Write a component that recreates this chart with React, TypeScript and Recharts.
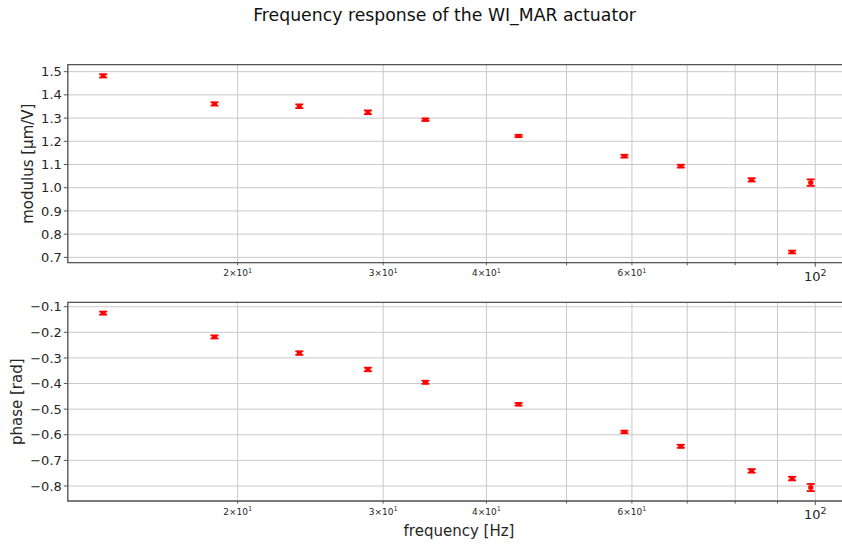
import { ScatterChart, Scatter, XAxis, YAxis, CartesianGrid, ErrorBar, ReferenceArea } from "recharts";

// measured points (Hz)
const freq = [13.75, 18.75, 23.75, 28.75, 33.75, 43.75, 58.75, 68.75, 83.75, 93.75, 98.75];
const modulus = [1.482, 1.361, 1.351, 1.325, 1.293, 1.223, 1.136, 1.093, 1.034, 0.723, 1.022];
const modulusErr = [0.007, 0.007, 0.008, 0.008, 0.005, 0.005, 0.006, 0.006, 0.007, 0.006, 0.014];
const phase = [-0.125, -0.218, -0.281, -0.345, -0.395, -0.481, -0.589, -0.645, -0.741, -0.771, -0.806];
const phaseErr = [0.006, 0.006, 0.007, 0.007, 0.006, 0.005, 0.005, 0.006, 0.007, 0.007, 0.014];

const xTicks = [20, 30, 40, 50, 60, 70, 80, 90, 100];
const xTickLabels = ["2×10^1", "3×10^1", "4×10^1", "", "6×10^1", "", "", "", "10^2"];
const modulusTicks = [0.7, 0.8, 0.9, 1.0, 1.1, 1.2, 1.3, 1.4, 1.5];
const phaseTicks = [-0.8, -0.7, -0.6, -0.5, -0.4, -0.3, -0.2, -0.1];

const X_DOMAIN: [number, number] = [12.46, 109];
const MOD_DOMAIN: [number, number] = [0.677, 1.53];
const PHASE_DOMAIN: [number, number] = [-0.8586, -0.0828];

const INK = "#262626";
const FRAME = "#555555";
const GRID = "#c9c9c9";

const modulusRows = freq.map((f, i) => ({ f, v: modulus[i], e: modulusErr[i] }));
const phaseRows = freq.map((f, i) => ({ f, v: phase[i], e: phaseErr[i] }));

function FreqTick(props: any) {
  const { x, y, payload } = props;
  const idx = xTicks.indexOf(payload.value);
  const label = xTickLabels[idx] || "";
  const major = payload.value === 100;
  const [mant, exp] = label.split("^");
  return (
    <g>
      <line x1={x} x2={x} y1={y} y2={y + (major ? 4 : 2.5)} stroke={FRAME} strokeWidth={1} />
      {label && (
        <text
          x={x}
          y={y + (major ? 18 : 13.5)}
          textAnchor="middle"
          fontSize={major ? 13 : 9}
          fill={INK}
        >
          {mant}
          <tspan dy={major ? -5 : -3.5} fontSize={major ? 9.5 : 6.5}>
            {exp}
          </tspan>
        </text>
      )}
    </g>
  );
}

const Dot = (props: any) => (
  <rect x={props.cx - 2.5} y={props.cy - 2} width={5} height={4} fill="#ff0000" />
);

const fmt = (v: number) => v.toFixed(1).replace("-", "\u2212");

interface PanelProps {
  rows: { f: number; v: number; e: number }[];
  domain: [number, number];
  ticks: number[];
  top: number;
  height: number;
  marginTop: number;
  axisHeight: number;
}

function Panel({ rows, domain, ticks, top, height, marginTop, axisHeight }: PanelProps) {
  return (
    <div style={{ position: "absolute", left: 0, top }}>
      <ScatterChart
        width={860}
        height={height}
        margin={{ top: marginTop, right: 13.8, left: 0, bottom: 0 }}
      >
        <CartesianGrid stroke={GRID} strokeWidth={1} />
        <XAxis
          type="number"
          dataKey="f"
          scale="log"
          domain={X_DOMAIN}
          ticks={xTicks}
          interval={0}
          allowDataOverflow
          axisLine={false}
          tickLine={false}
          tickSize={0}
          tickMargin={0}
          height={axisHeight}
          tick={<FreqTick />}
        />
        <YAxis
          type="number"
          dataKey="v"
          domain={domain}
          ticks={ticks}
          interval={0}
          allowDataOverflow
          width={67.8}
          axisLine={false}
          tickSize={4}
          tickMargin={2}
          tickLine={{ stroke: FRAME }}
          tick={{ fontSize: 13, fill: INK }}
          tickFormatter={fmt}
        />
        <ReferenceArea
          x1={X_DOMAIN[0]}
          x2={X_DOMAIN[1]}
          y1={domain[0]}
          y2={domain[1]}
          fill="none"
          stroke={FRAME}
          strokeWidth={1.3}
          ifOverflow="visible"
        />
        <Scatter data={rows} shape={<Dot />} isAnimationActive={false}>
          <ErrorBar dataKey="e" direction="y" width={4} stroke="#ff0000" strokeWidth={1.8} isAnimationActive={false} />
        </Scatter>
      </ScatterChart>
    </div>
  );
}

export default function App() {
  return (
    <div
      style={{
        position: "absolute",
        left: 0,
        top: 0,
        width: 842,
        height: 544,
        overflow: "hidden",
        background: "#fff",
        fontFamily: "'DejaVu Sans', sans-serif",
      }}
    >
      <Panel rows={modulusRows} domain={MOD_DOMAIN} ticks={modulusTicks} top={0} height={290} marginTop={64.7} axisHeight={27.3} />
      <Panel rows={phaseRows} domain={PHASE_DOMAIN} ticks={phaseTicks} top={290} height={254} marginTop={12.3} axisHeight={43} />
      <svg width={842} height={544} style={{ position: "absolute", left: 0, top: 0, pointerEvents: "none" }}>
        <text x={444.5} y={21} textAnchor="middle" fontSize={17.3} fill="#111">
          Frequency response of the WI_MAR actuator
        </text>
        <text
          x={28}
          y={163.7}
          textAnchor="middle"
          dominantBaseline="central"
          fontSize={15}
          fill={INK}
          transform="rotate(-90 28 163.7)"
        >
          modulus [µm/V]
        </text>
        <text
          x={17}
          y={401.7}
          textAnchor="middle"
          dominantBaseline="central"
          fontSize={15}
          fill={INK}
          transform="rotate(-90 17 401.7)"
        >
          phase [rad]
        </text>
        <text x={459} y={536} textAnchor="middle" fontSize={15} fill={INK}>
          frequency [Hz]
        </text>
      </svg>
    </div>
  );
}
